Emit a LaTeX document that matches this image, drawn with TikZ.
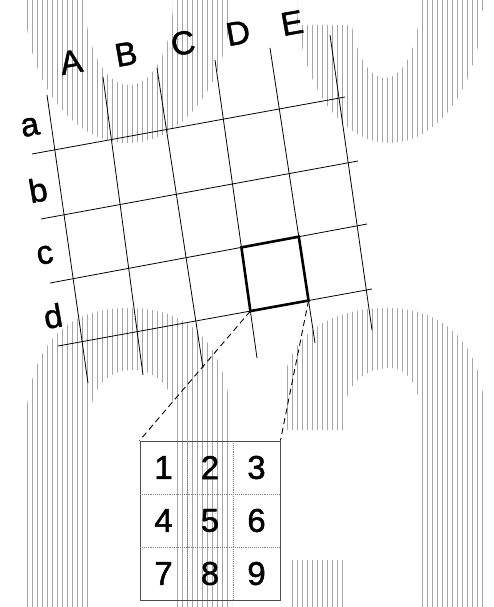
\documentclass[tikz,border=0pt]{standalone}
\usepackage{fontspec}
\setmainfont{Liberation Sans}
\newfontfamily\lblfont[FakeBold=1.4]{Liberation Sans}
\tikzstyle{lbl}=[font=\lblfont\fontsize{33}{35}\selectfont, inner sep=0, rotate=10]
\tikzstyle{num}=[font=\lblfont\fontsize{33}{35}\selectfont, inner sep=0]
\tikzstyle{gl}=[line width=.8pt]
\tikzstyle{cellbox}=[line width=2.6pt]
\tikzstyle{zoomline}=[dash pattern=on 6pt off 4pt, line width=.9pt]
\tikzstyle{hatch}=[gray!70, line width=.9pt]
\tikzstyle{boxin}=[gray, densely dotted, line width=.9pt]

\begin{document}
\begin{tikzpicture}[x=1pt, y=-1pt]
\useasboundingbox (0,0) rectangle (493,607);
\begin{scope}
\clip (25,0) arc[start angle=180, end angle=0, x radius=103, y radius=143] -- (173,0) arc[start angle=0, end angle=180, x radius=44, y radius=85] -- cycle
 (297,25) -- (297,0) arc[start angle=180, end angle=0, x radius=93, y radius=143] -- (420,0) arc[start angle=0, end angle=180, x radius=35, y radius=78] -- (350,25) -- cycle
 (25,607) -- (25,440) .. controls (25,345) and (65,308) .. (128,308) .. controls (192,308) and (232,345) .. (232,440) -- (232,607) -- (175,607) -- (175,420) .. controls (175,388) and (157,370) .. (132,370) .. controls (108,370) and (90,388) .. (90,420) -- (90,607) -- cycle
 (283,430) -- (283,395) .. controls (283,335) and (330,308) .. (388,308) .. controls (445,308) and (485,345) .. (485,420) -- (485,607) -- (422,607) -- (422,430) .. controls (422,390) and (410,368) .. (390,368) .. controls (365,368) and (345,385) .. (345,410) -- (345,430) -- cycle
 (290,560) rectangle (345,607);
\foreach \x in {27,32,...,487} {\draw[hatch] (\x,0)--(\x,607);}
\end{scope}
\coordinate (A0) at (47,95); \coordinate (A1) at (88,383);
\coordinate (B0) at (103,77); \coordinate (B1) at (143,375);
\coordinate (C0) at (157,68); \coordinate (C1) at (203,368);
\coordinate (D0) at (215,60); \coordinate (D1) at (257,358);
\coordinate (E0) at (270,48); \coordinate (E1) at (315,343);
\coordinate (F0) at (330,35); \coordinate (F1) at (372,330);
\coordinate (a0) at (32,154); \coordinate (a1) at (345,97);
\coordinate (b0) at (41,219); \coordinate (b1) at (358,161);
\coordinate (c0) at (50,283); \coordinate (c1) at (367,224);
\coordinate (d0) at (58,346); \coordinate (d1) at (372,289);
\foreach \l in {A,B,C,D,E,F,a,b,c,d} {\draw[gl] (\l0)--(\l1);}
\coordinate (cD) at (intersection of c0--c1 and D0--D1);
\coordinate (cE) at (intersection of c0--c1 and E0--E1);
\coordinate (dE) at (intersection of d0--d1 and E0--E1);
\coordinate (dD) at (intersection of d0--d1 and D0--D1);
\draw[cellbox] (cD)--(cE)--(dE)--(dD)--cycle;
\node at (71,62)[lbl](lA){A};
\node at (126,54)[lbl](lB){B};
\node at (183,43)[lbl](lC){C};
\node at (238,33)[lbl](lD){D};
\node at (292,23)[lbl](lE){E};
\node at (30,127)[lbl](la){a};
\node at (38,190)[lbl](lb){b};
\node at (45,255)[lbl](lc){c};
\node at (53,316)[lbl](ld){d};
\node at (210,520.5)[draw=gray!60!black, line width=.9pt, minimum width=140, minimum height=159, inner sep=0](zoom){};
\draw[zoomline] (dD)--(zoom.north west);
\draw[zoomline] (dE)--(zoom.north east);
\foreach \y in {494,547} {\draw[boxin] (140,\y)--(280,\y);}
\foreach \x in {187,233} {\draw[boxin] (\x,441)--(\x,600);}
\node at (163.5,467.5)[num](n1){1};
\node at (210,467.5)[num](n2){2};
\node at (256.5,467.5)[num](n3){3};
\node at (163.5,520.5)[num](n4){4};
\node at (210,520.5)[num](n5){5};
\node at (256.5,520.5)[num](n6){6};
\node at (163.5,573.5)[num](n7){7};
\node at (210,573.5)[num](n8){8};
\node at (256.5,573.5)[num](n9){9};
\end{tikzpicture}
\end{document}
